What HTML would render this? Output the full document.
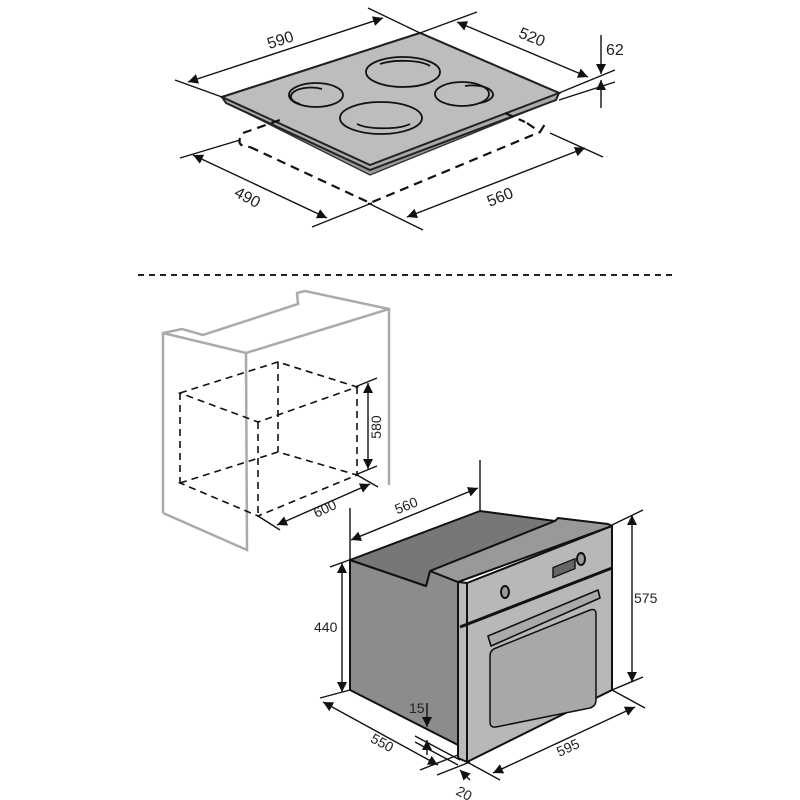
<!DOCTYPE html>
<html><head><meta charset="utf-8"><style>html,body{margin:0;padding:0;background:#fff}svg{display:block}text{font-family:"Liberation Sans",sans-serif;fill:#222}</style></head>
<body>
<svg width="800" height="800" viewBox="0 0 800 800" xmlns="http://www.w3.org/2000/svg">
<defs>
<marker id="a" viewBox="0 0 10 10" refX="10" refY="5" markerWidth="10" markerHeight="10" orient="auto-start-reverse" markerUnits="userSpaceOnUse"><path d="M0,0L10,5L0,10z" fill="#111"/></marker>
</defs>
<g stroke="#111" stroke-width="1.4" fill="none">
<!-- HOB -->
<polygon points="237,108 420,44 555,100 370,175" fill="#999" stroke="#333"/>
<polygon points="222,97 420,33 559,93 556,100 370,170 226,103" fill="#aaa" stroke="#222" stroke-width="2"/>
<polygon points="222,97 420,33 559,93 370,165" fill="#bdbdbd" stroke="#222" stroke-width="2"/>
<g stroke-width="1.8">
<ellipse cx="403" cy="72" rx="37" ry="15"/>
<path d="M380,64 A30,9 0 0 1 430,66"/>
<ellipse cx="316" cy="95" rx="27" ry="12"/>
<path d="M300,104 A18,8 0 0 1 322,89"/>
<ellipse cx="462" cy="94" rx="27" ry="12"/>
<path d="M465,86 A18,8 0 0 1 480,103"/>
<ellipse cx="381" cy="118" rx="41" ry="16"/>
<path d="M357,124 A30,8 0 0 0 410,124"/>
</g>
<g stroke-dasharray="9,6" stroke-width="2.2">
<path d="M250,147 L370,203 L540,132"/>
<path d="M243,133 L280,120"/>
<path d="M240,138 Q237,147 250,147"/>
<path d="M527,123 L540,132 L545,124"/>
<path d="M505,113 L525,122"/>
</g>
<line x1="188" y1="82" x2="383" y2="18" marker-start="url(#a)" marker-end="url(#a)"/>
<line x1="175" y1="80" x2="222" y2="97"/><line x1="368" y1="8" x2="420" y2="33"/>
<line x1="420" y1="33" x2="477" y2="12"/>
<line x1="457" y1="22" x2="588" y2="77" marker-start="url(#a)" marker-end="url(#a)"/>
<line x1="559" y1="93" x2="615" y2="70"/><line x1="559" y1="100" x2="615" y2="82"/>
<line x1="601" y1="35" x2="601" y2="74" marker-end="url(#a)"/>
<line x1="601" y1="108" x2="601" y2="80" marker-end="url(#a)"/>
<line x1="180" y1="158" x2="240" y2="140"/>
<line x1="193" y1="155" x2="327" y2="218" marker-start="url(#a)" marker-end="url(#a)"/>
<line x1="312" y1="227" x2="372" y2="203"/><line x1="368" y1="203" x2="423" y2="230"/>
<line x1="550" y1="133" x2="603" y2="157"/>
<line x1="407" y1="217" x2="585" y2="148" marker-start="url(#a)" marker-end="url(#a)"/>
</g>
<g font-size="16">
<text x="282" y="45" transform="rotate(-18 282 45)" text-anchor="middle">590</text>
<text x="530" y="42" transform="rotate(22 530 42)" text-anchor="middle">520</text>
<text x="606" y="55">62</text>
<text x="245" y="202" transform="rotate(28 245 202)" text-anchor="middle">490</text>
<text x="502" y="202" transform="rotate(-22 502 202)" text-anchor="middle">560</text>
</g>
<line x1="138" y1="275" x2="672" y2="275" stroke="#222" stroke-width="2" stroke-dasharray="6,5"/>
<!-- CABINET -->
<g stroke="#aaa" stroke-width="2.5" fill="none">
<path d="M163,513 L163,333 L182,329 L203,335 L298,304 L297,293 L305,291 L389,309 L389,485"/>
<path d="M163,333 L246,353 L389,309"/>
<path d="M246,353 L247,550 L163,513"/>
</g>
<g stroke="#111" stroke-width="1.4" fill="none">
<g stroke-dasharray="7,5" stroke-width="1.6">
<path d="M180,393 L278,362 L357,387 L258,422 Z"/>
<path d="M180,483 L278,452 L357,475 L258,516 Z"/>
<line x1="180" y1="393" x2="180" y2="483"/><line x1="278" y1="362" x2="278" y2="452"/>
<line x1="357" y1="387" x2="357" y2="475"/><line x1="258" y1="422" x2="258" y2="516"/>
</g>
<line x1="355" y1="387" x2="377" y2="378"/><line x1="355" y1="475" x2="377" y2="466"/>
<line x1="368" y1="383" x2="368" y2="469" marker-start="url(#a)" marker-end="url(#a)"/>
<line x1="258" y1="516" x2="280" y2="530"/><line x1="357" y1="475" x2="378" y2="487"/>
<line x1="277" y1="525" x2="370" y2="484" marker-start="url(#a)" marker-end="url(#a)"/>
</g>
<text x="381" y="427" font-size="14" transform="rotate(-90 381 427)" text-anchor="middle">580</text>
<text x="327" y="513" font-size="14" transform="rotate(-25 327 513)" text-anchor="middle">600</text>
<!-- OVEN -->
<g stroke="#111" stroke-width="2" stroke-linejoin="round">
<polygon points="350,560 426,586 430,571 458,582 458,745 350,690" fill="#8c8c8c"/>
<polygon points="350,560 480,511 555,521 430,571 426,586" fill="#777"/>
<polygon points="430,571 555,521 558,518 608,524 612,526 458,582" fill="#999"/>
<polygon points="458,582 467,583 467,762 458,758" fill="#bbb"/>
<polygon points="467,583 612,526 612,690 467,762" fill="#b8b8b8"/>
<line x1="460" y1="627" x2="612" y2="568" stroke-width="3"/>
<polygon points="488,636 598,590 600,598 491,646" fill="#aaa" stroke-width="1.6"/>
<path d="M496,648 L590,610 Q596,608 596,614 L596,700 Q596,706 590,708 L496,727 Q490,728 490,722 L490,656 Q490,650 496,648Z" fill="#a8a8a8" stroke-width="1.5"/>
<rect x="553" y="566" width="22" height="10" transform="skewY(-22) translate(0,225)" fill="#666" stroke-width="1.4"/>
<ellipse cx="505" cy="592" rx="4" ry="6" fill="#999"/>
<ellipse cx="581" cy="559" rx="4" ry="6" fill="#999"/>
</g>
<g stroke="#111" stroke-width="1.4" fill="none">
<line x1="350" y1="508" x2="350" y2="562"/><line x1="480" y1="460" x2="480" y2="512"/>
<line x1="351" y1="540" x2="478" y2="488" marker-start="url(#a)" marker-end="url(#a)"/>
<line x1="612" y1="525" x2="643" y2="510"/><line x1="612" y1="690" x2="643" y2="677"/>
<line x1="632" y1="515" x2="632" y2="682" marker-start="url(#a)" marker-end="url(#a)"/>
<line x1="330" y1="567" x2="352" y2="559"/>
<line x1="342" y1="563" x2="342" y2="692" marker-start="url(#a)" marker-end="url(#a)"/>
<line x1="320" y1="698" x2="350" y2="690"/>
<line x1="323" y1="702" x2="438" y2="765" marker-start="url(#a)" marker-end="url(#a)"/>
<line x1="612" y1="690" x2="645" y2="708"/>
<line x1="493" y1="773" x2="635" y2="707" marker-start="url(#a)" marker-end="url(#a)"/>
<line x1="467" y1="762" x2="500" y2="780"/>
<line x1="427" y1="703" x2="427" y2="727" marker-end="url(#a)"/>
<line x1="427" y1="755" x2="427" y2="740" marker-end="url(#a)"/>
<line x1="415" y1="736" x2="460" y2="760"/><line x1="415" y1="742" x2="458" y2="765"/>
<line x1="420" y1="770" x2="458" y2="755"/><line x1="437" y1="775" x2="470" y2="762"/>
<line x1="470" y1="780" x2="460" y2="770" marker-end="url(#a)"/>
</g>
<g font-size="14">
<text x="408" y="510" transform="rotate(-22 408 510)" text-anchor="middle">560</text>
<text x="634" y="603">575</text>
<text x="314" y="632">440</text>
<text x="380" y="747" transform="rotate(28 380 747)" text-anchor="middle">550</text>
<text x="570" y="752" transform="rotate(-25 570 752)" text-anchor="middle">595</text>
<text x="409" y="713">15</text>
<text x="455" y="794" transform="rotate(28 455 794)">20</text>
</g>
</svg>
</body></html>
